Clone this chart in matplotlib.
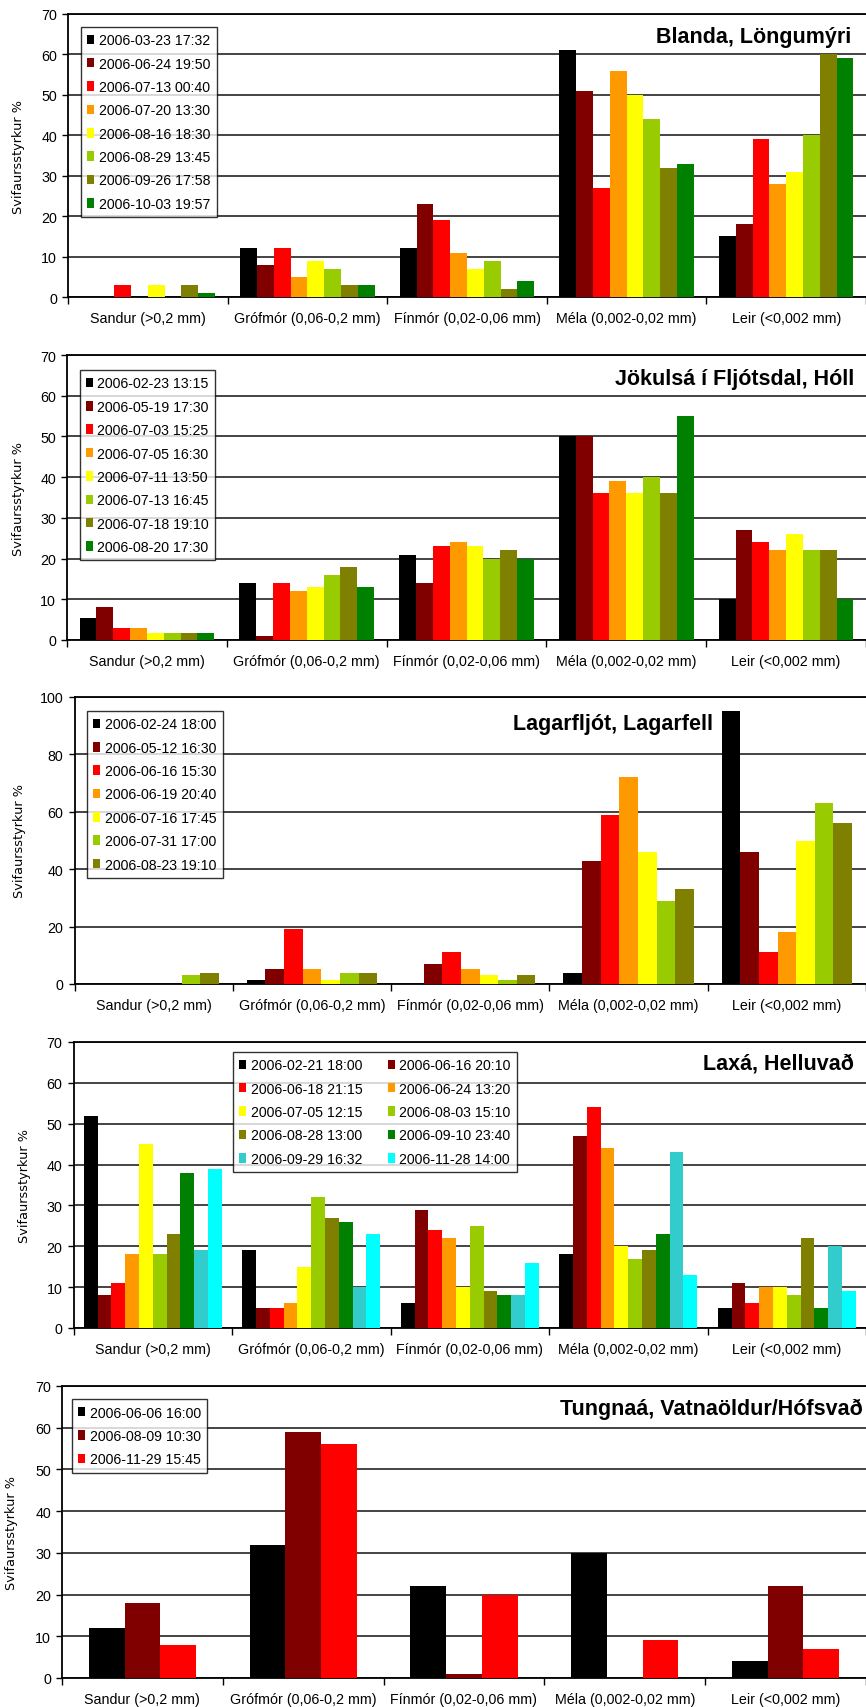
import numpy as np
import matplotlib
matplotlib.use("Agg")
from matplotlib import pyplot as plt
from matplotlib import font_manager

categories = ["Sandur (>0,2 mm)", "Grófmór (0,06-0,2 mm)", "Fínmór (0,02-0,06 mm)",
              "Méla (0,002-0,02 mm)", "Leir (<0,002 mm)"]

PALETTE = ["#000000", "#800000", "#FF0000", "#FF9900", "#FFFF00",
           "#99CC00", "#808000", "#008000", "#33CCCC", "#00FFFF"]

# Blanda, Löngumýri
blanda_dates = ["2006-03-23 17:32", "2006-06-24 19:50", "2006-07-13 00:40", "2006-07-20 13:30",
                "2006-08-16 18:30", "2006-08-29 13:45", "2006-09-26 17:58", "2006-10-03 19:57"]
blanda_values = [
    [0, 12, 12, 61, 15],
    [0, 8, 23, 51, 18],
    [3, 12, 19, 27, 39],
    [0, 5, 11, 56, 28],
    [3, 9, 7, 50, 31],
    [0, 7, 9, 44, 40],
    [3, 3, 2, 32, 60],
    [1, 3, 4, 33, 59],
]

# Jökulsá í Fljótsdal, Hóll
jokulsa_dates = ["2006-02-23 13:15", "2006-05-19 17:30", "2006-07-03 15:25", "2006-07-05 16:30",
                 "2006-07-11 13:50", "2006-07-13 16:45", "2006-07-18 19:10", "2006-08-20 17:30"]
jokulsa_values = [
    [5.3, 14, 21, 50, 10],
    [8, 1, 14, 50, 27],
    [3, 14, 23, 36, 24],
    [3, 12, 24, 39, 22],
    [1.8, 13, 23, 36, 26],
    [1.8, 16, 20, 40, 22],
    [1.8, 18, 22, 36, 22],
    [1.8, 13, 20, 55, 10],
]

# Lagarfljót, Lagarfell
lagar_dates = ["2006-02-24 18:00", "2006-05-12 16:30", "2006-06-16 15:30", "2006-06-19 20:40",
               "2006-07-16 17:45", "2006-07-31 17:00", "2006-08-23 19:10"]
lagar_values = [
    [0, 1.3, 0, 4, 95],
    [0, 5.3, 7, 43, 46],
    [0, 19, 11, 59, 11],
    [0, 5.3, 5.3, 72, 18],
    [0, 1.3, 3, 46, 50],
    [3, 3.7, 1.3, 29, 63],
    [3.7, 3.7, 3, 33, 56],
]

# Laxá, Helluvað
laxa_dates = ["2006-02-21 18:00", "2006-06-16 20:10", "2006-06-18 21:15", "2006-06-24 13:20",
              "2006-07-05 12:15", "2006-08-03 15:10", "2006-08-28 13:00", "2006-09-10 23:40",
              "2006-09-29 16:32", "2006-11-28 14:00"]
laxa_values = [
    [52, 19, 6, 18, 5],
    [8, 5, 29, 47, 11],
    [11, 5, 24, 54, 6],
    [18, 6, 22, 44, 10],
    [45, 15, 10, 20, 10],
    [18, 32, 25, 17, 8],
    [23, 27, 9, 19, 22],
    [38, 26, 8, 23, 5],
    [19, 10, 8, 43, 20],
    [39, 23, 16, 13, 9],
]

# Tungnaá, Vatnaöldur/Hófsvað
tungnaa_dates = ["2006-06-06 16:00", "2006-08-09 10:30", "2006-11-29 15:45"]
tungnaa_values = [
    [12, 32, 22, 30, 4],
    [18, 59, 1, 0, 22],
    [8, 56, 20, 9, 7],
]

names = set(f.name for f in font_manager.fontManager.ttflist)
FONT = "Liberation Sans" if "Liberation Sans" in names else "DejaVu Sans"
plt.rcParams['font.family'] = [FONT, 'DejaVu Sans']

W, H = 866, 1708
fig = plt.figure(figsize=(W / 100, H / 100), dpi=100)


def draw_panel(box, dates, values, ymax, ystep, title, title_pos, title_ha,
               leg_anchor, ylabel_x, ncol=1):
    left, top, bottom = box
    ax = fig.add_axes([left / W, 1 - bottom / H, (W - left) / W, (bottom - top) / H])
    n = len(dates)
    width = 1.0 / (n + 1.5)
    x = np.arange(len(categories))
    handles = []
    for i in range(n):
        offs = (i - (n - 1) / 2) * width
        b = ax.bar(x + offs, values[i], width, color=PALETTE[i], label=dates[i],
                   linewidth=0, zorder=3)
        handles.append(b)
    ax.set_xlim(-0.5, len(categories) - 0.5)
    ax.set_ylim(0, ymax)
    ax.set_yticks(np.arange(0, ymax + 1, ystep))
    ax.yaxis.grid(True, color="#111111", linewidth=1.1, zorder=1)
    ax.set_axisbelow(True)
    ax.set_xticks(np.arange(len(categories) + 1) - 0.5)
    ax.set_xticklabels([])
    ax.set_xticks(x, minor=True)
    ax.set_xticklabels(categories, minor=True, fontsize=10.3)
    ax.tick_params(axis='x', which='minor', length=0, pad=10)
    ax.tick_params(axis='x', which='major', length=5, width=1)
    ax.tick_params(axis='y', length=4, width=1, labelsize=10.3, pad=4)
    for s in ["left", "bottom", "top"]:
        ax.spines[s].set_linewidth(1.3)
    ax.spines["right"].set_visible(False)
    ax.set_ylabel("Svifaursstyrkur %", family="DejaVu Sans", fontsize=9.3)
    ax.yaxis.set_label_coords(-(left - ylabel_x) / (W - left), 0.5)
    ax.text(title_pos[0], title_pos[1], title, transform=ax.transAxes, ha=title_ha,
            va="center", fontsize=15.5, fontweight="bold", clip_on=False)
    if ncol == 2:
        order = list(range(0, n, 2)) + list(range(1, n, 2))
        handles = [handles[k] for k in order]
        labels = [dates[k] for k in order]
    else:
        labels = dates
    leg = ax.legend(handles, labels, loc="upper left", bbox_to_anchor=leg_anchor,
                    borderaxespad=0, ncol=ncol, fontsize=10.2, frameon=True, fancybox=False,
                    edgecolor="#000000", handlelength=0.5, handleheight=0.65,
                    handletextpad=0.3, labelspacing=0.66, borderpad=0.45,
                    columnspacing=1.8)
    leg.get_frame().set_linewidth(1.0)
    leg.set_zorder(5)
    return ax


draw_panel((68, 15, 298), blanda_dates, blanda_values, 70, 10,
           "Blanda, Löngumýri", (0.981, 0.919), "right", (0.0163, 0.954), 25)
draw_panel((67, 356, 641), jokulsa_dates, jokulsa_values, 70, 10,
           "Jökulsá í Fljótsdal, Hóll", (0.985, 0.919), "right", (0.016, 0.947), 25)
draw_panel((74.6, 698, 985), lagar_dates, lagar_values, 100, 20,
           "Lagarfljót, Lagarfell", (0.807, 0.906), "right", (0.0157, 0.951), 26)
draw_panel((73.5, 1043, 1329), laxa_dates, laxa_values, 70, 10,
           "Laxá, Helluvað", (0.985, 0.926), "right", (0.201, 0.965), 31, ncol=2)
draw_panel((62, 1387, 1679), tungnaa_dates, tungnaa_values, 70, 10,
           "Tungnaá, Vatnaöldur/Hófsvað", (0.62, 0.925), "left", (0.0124, 0.955), 18)

fig.savefig("out.png", dpi=100)
